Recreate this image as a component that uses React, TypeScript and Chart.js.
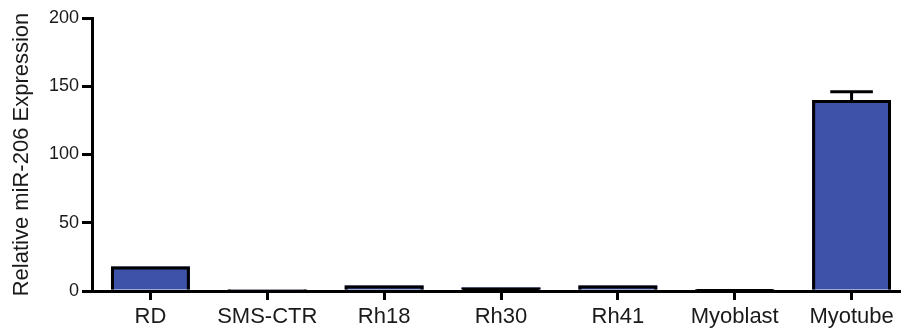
import React, { useEffect, useRef } from "react";
import { Chart, registerables } from "chart.js";

Chart.register(...registerables);

const categories = ["RD", "SMS-CTR", "Rh18", "Rh30", "Rh41", "Myoblast", "Myotube"];
const values = [18, 1, 4, 2.5, 4, 1.5, 140];
const errors = [0, 0, 0, 0, 0, 0, 6];
const yTicks = [0, 50, 100, 150, 200];
const yTitle = "Relative miR-206 Expression";

const FONT = "'Liberation Sans', Arial, Helvetica, sans-serif";

const outlineAndErrorPlugin = {
  id: "outlineAndErrors",
  afterDatasetsDraw(chart: any) {
    const { ctx } = chart;
    const meta = chart.getDatasetMeta(0);
    const y = chart.scales.y;
    ctx.save();
    ctx.strokeStyle = "#000";
    ctx.lineWidth = 3;
    ctx.lineJoin = "miter";
    meta.data.forEach((bar: any, i: number) => {
      const left = bar.x - bar.width / 2 + 1.5;
      const right = bar.x + bar.width / 2 - 1.5;
      const top = bar.y + 1.5;
      const base = bar.base;
      ctx.beginPath();
      ctx.moveTo(left, base);
      ctx.lineTo(left, top);
      ctx.lineTo(right, top);
      ctx.lineTo(right, base);
      ctx.stroke();

      const e = errors[i];
      if (!e) return;
      const eTop = y.getPixelForValue(values[i] + e);
      const half = bar.width * 0.27;
      ctx.beginPath();
      ctx.moveTo(bar.x, bar.y);
      ctx.lineTo(bar.x, eTop);
      ctx.moveTo(bar.x - half, eTop);
      ctx.lineTo(bar.x + half, eTop);
      ctx.stroke();
    });
    ctx.restore();
  },
};

export default function App() {
  const ref = useRef<HTMLCanvasElement | null>(null);

  useEffect(() => {
    document.body.style.margin = "0";
    const chart = new Chart(ref.current as HTMLCanvasElement, {
      type: "bar",
      data: {
        labels: categories,
        datasets: [
          {
            data: values,
            backgroundColor: "#3D52A8",
            borderWidth: 0,
            categoryPercentage: 1,
            barPercentage: 0.675,
          },
        ],
      },
      options: {
        responsive: false,
        animation: false,
        layout: { padding: { top: 18, left: 0, right: 0, bottom: 0 } },
        plugins: {
          legend: { display: false },
          tooltip: { enabled: false },
        },
        scales: {
          x: {
            grid: {
              display: true,
              drawOnChartArea: false,
              drawTicks: true,
              tickLength: 9,
              offset: false,
              color: "#000",
              lineWidth: 3,
            },
            border: { display: true, color: "#000", width: 3 },
            ticks: {
              color: "#1a1a1a",
              font: { family: FONT, size: 22 },
              padding: 4,
              maxRotation: 0,
              autoSkip: false,
            },
            afterFit: (scale: any) => {
              scale.height = 44;
            },
          },
          y: {
            min: 0,
            max: 200,
            afterBuildTicks: (scale: any) => {
              scale.ticks = yTicks.map((v) => ({ value: v }));
            },
            grid: {
              display: true,
              drawOnChartArea: false,
              drawTicks: true,
              tickLength: 10,
              color: "#000",
              lineWidth: 3,
            },
            border: { display: true, color: "#000", width: 3 },
            ticks: {
              color: "#1a1a1a",
              font: { family: FONT, size: 18 },
              padding: 3,
            },
            title: {
              display: true,
              text: yTitle,
              color: "#1a1a1a",
              font: { family: FONT, size: 22 },
              padding: { top: 9, bottom: 0 },
            },
            afterFit: (scale: any) => {
              scale.width = 92;
            },
          },
        },
      },
      plugins: [outlineAndErrorPlugin],
    });
    return () => chart.destroy();
  }, []);

  return (
    <div style={{ position: "absolute", left: 0, top: 0, width: 901, height: 335, overflow: "hidden", background: "#fff" }}>
      <canvas ref={ref} width={910} height={335} style={{ display: "block", width: 910, height: 335 }} />
    </div>
  );
}
